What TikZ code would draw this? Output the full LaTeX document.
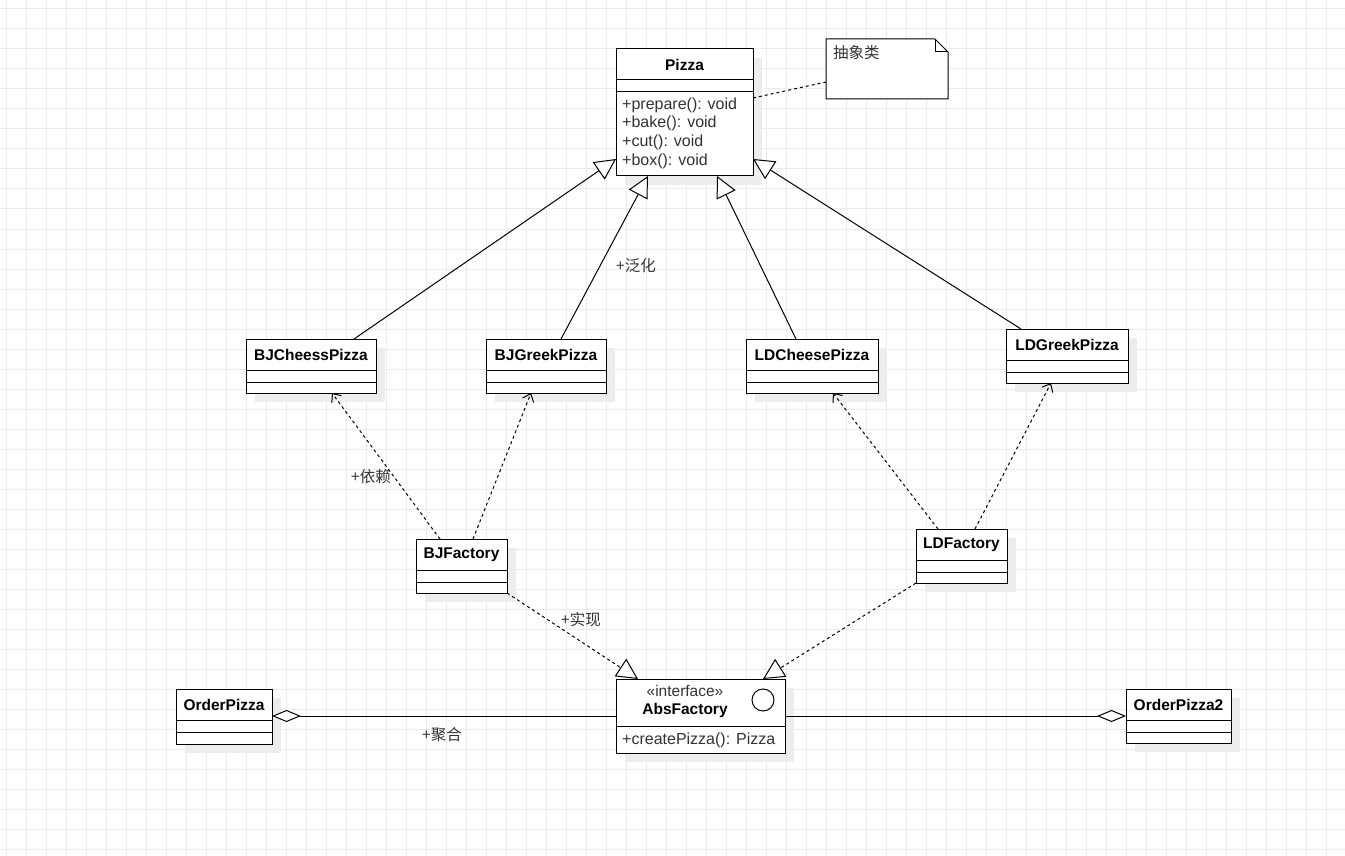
\documentclass[tikz,border=0pt]{standalone}
\usepackage{fontspec}
\setmainfont{Liberation Sans}
\newfontfamily\cjk{Noto Sans CJK SC}
\usetikzlibrary{arrows.meta,positioning,calc}

% class box: name, left, top, width, height, title
\newcommand{\umlclass}[6]{%
  \fill[clsshadow] (#2+9,#3+9) rectangle ++(#4,#5);
  \node[clsbox, minimum width=#4, minimum height=#5, anchor=north west] (#1) at (#2,#3) {};
  \node[clsname] (#1-name) at ($(#1.north)+(0,15.5)$) {#6};
  \draw[clsline] ($(#1.north west)+(0,31)$) -- ++(#4,0);
  \draw[clsline] ($(#1.north west)+(0,43)$) -- ++(#4,0);
}

\begin{document}
\begin{tikzpicture}[x=1pt, y=-1pt,
  gridline/.style={draw=black!8, line width=1pt},
  clsbox/.style={draw=black, line width=1pt, fill=white, inner sep=0, outer sep=0},
  clsname/.style={font=\bfseries\fontsize{15.5}{18}\selectfont},
  clsline/.style={line width=1pt},
  clsshadow/.style={fill=black!7},
  ops/.style={anchor=west, inner sep=0, text=black!80, font=\fontsize{16}{19}\selectfont},
  lbl/.style={inner sep=0, text=black!80, font=\cjk\fontsize{15.5}{18}\selectfont},
  gen/.style={line width=1pt, -{Triangle[open, fill=white, length=21pt, width=21pt]}},
  dep/.style={line width=1pt, dash pattern=on 3pt off 3pt, -{Straight Barb[length=7pt, width=12pt]}},
  real/.style={line width=1pt, dash pattern=on 3pt off 3pt, -{Triangle[open, fill=white, length=21pt, width=21pt]}},
  agg/.style={line width=1pt, -{Diamond[open, fill=white, length=29pt, width=12pt]}},
  notelink/.style={line width=1pt, dash pattern=on 3pt off 3pt}]
  \useasboundingbox (0,0) rectangle (1345,856);
  \fill[white] (0,0) rectangle (1345,856);
  % grid
  \foreach \gx in {6.5,26.5,...,1346.5} \draw[gridline] (\gx,0) -- (\gx,856);
  \foreach \gy in {9,29,...,849} \draw[gridline] (0,\gy) -- (1345,\gy);

  % classes
  \umlclass{pizza}{616}{49}{137}{127}{Pizza}
  \foreach \m [count=\i] in {prepare,bake,cut,box}
    \node[ops] (pizza-op\i) at (622,86.5+18.6*\i) {+\m(): void};
  \umlclass{bjc}{246}{339}{130}{54}{BJCheessPizza}
  \umlclass{bjg}{486}{339}{120}{54}{BJGreekPizza}
  \umlclass{ldc}{746}{339}{132}{54}{LDCheesePizza}
  \umlclass{ldg}{1006}{329}{122}{54}{LDGreekPizza}
  \umlclass{bjf}{416}{539}{91}{54}{BJFactory}
  \umlclass{ldf}{916}{529}{91}{54}{LDFactory}
  \umlclass{op}{176}{689}{96}{55}{OrderPizza}
  \umlclass{op2}{1126}{689}{105}{54}{OrderPizza2}

  % interface
  \fill[clsshadow] (625,688) rectangle ++(169,74);
  \node[clsbox, minimum width=169, minimum height=74, anchor=north west] (abs) at (616,679) {};
  \draw[clsline] ($(abs.north west)+(0,47)$) -- ++(169,0);
  \node[inner sep=0, font=\fontsize{15.5}{18}\selectfont, text=black!80] (abs-st) at (685,691) {«interface»};
  \node[clsname] (abs-name) at (685,710) {AbsFactory};
  \node[circle, draw, line width=1pt, minimum size=22, inner sep=0] (abs-icon) at (763,700) {};
  \node[ops] (abs-op) at (622,740) {+createPizza(): Pizza};

  % note
  \node[minimum width=122, minimum height=60, anchor=north west, inner sep=0, outer sep=0] (note) at (826,39) {};
  \draw[clsbox] (note.north west) -- ($(note.north east)+(-13,0)$) -- ($(note.north east)+(0,13)$)
    -- (note.south east) -- (note.south west) -- cycle;
  \draw[clsline] ($(note.north east)+(-13,0)$) -- ++(0,13) -- ++(13,0);
  \node[lbl, anchor=west] (note-txt) at (833,53) {抽象类};
  \draw[notelink] ($(pizza.north east)+(0,49)$) -- ($(note.south west)+(0,-17)$);

  % generalization
  \draw[gen] ($(bjc.north west)+(108,0)$) -- ($(pizza.north west)+(0,110)$);
  \draw[gen] ($(bjg.north west)+(75,0)$) -- ($(pizza.south west)+(32,0)$);
  \draw[gen] ($(ldc.north west)+(50,0)$) -- ($(pizza.south west)+(101,0)$);
  \draw[gen] ($(ldg.north west)+(15,0)$) -- ($(pizza.north east)+(0,110)$);
  \node[lbl] (lbl-gen) at (636,266) {+泛化};

  % dependency
  \draw[dep] ($(bjf.north west)+(24,0)$) -- ($(bjc.south west)+(86,0)$);
  \draw[dep] ($(bjf.north west)+(57,0)$) -- ($(bjg.south west)+(45,0)$);
  \draw[dep] ($(ldf.north west)+(22,0)$) -- ($(ldc.south west)+(87,0)$);
  \draw[dep] ($(ldf.north west)+(59,0)$) -- ($(ldg.south west)+(45,0)$);
  \node[lbl] (lbl-dep) at (371,477) {+依赖};

  % realization
  \draw[real] (bjf.south east) -- ($(abs.north west)+(22,0)$);
  \draw[real] (ldf.south west) -- ($(abs.north west)+(147,0)$);
  \node[lbl] (lbl-real) at (581,620) {+实现};

  % aggregation
  \draw[agg] (abs.west) -- (abs.west -| op.east);
  \draw[agg] (abs.east) -- (abs.east -| op2.west);
  \node[lbl] (lbl-agg) at (442,735) {+聚合};
\end{tikzpicture}
\end{document}
